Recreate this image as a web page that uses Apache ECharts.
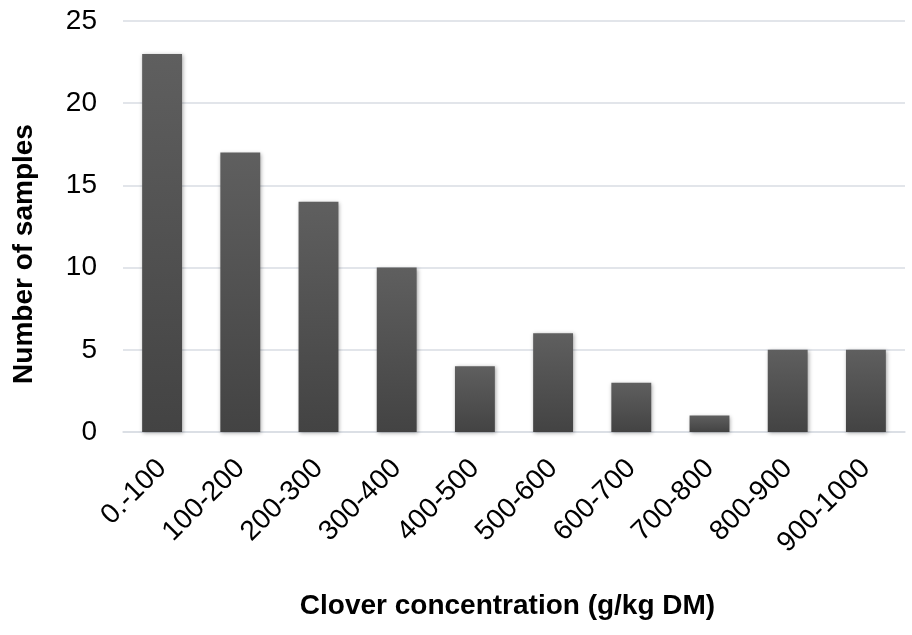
<!DOCTYPE html>
<html>
<head>
<meta charset="utf-8">
<script src="https://cdn.jsdelivr.net/npm/echarts@6/dist/echarts.min.js"></script>
<style>
html,body{margin:0;padding:0;background:#fff;}
#c{width:912px;height:635px;}
</style>
</head>
<body>
<div id="c"></div>
<script>
var categories = ['0.-100','100-200','200-300','300-400','400-500','500-600','600-700','700-800','800-900','900-1000'];
var samples = [23,17,14,10,4,6,3,1,5,5];
var yTicks = [0,5,10,15,20,25];

var chart = echarts.init(document.getElementById('c'));
var font = 'Liberation Sans, Arial, sans-serif';
chart.setOption({
  animation: false,
  grid: {left: 123, right: 7, top: 21, bottom: 203, containLabel: false},
  xAxis: {
    type: 'category',
    data: categories,
    axisTick: {show: false},
    axisLine: {lineStyle: {color: '#d9dde3', width: 1.5}},
    axisLabel: {rotate: 45, color: '#000', fontSize: 28, fontFamily: font, margin: 32, interval: 0},
    name: 'Clover concentration (g/kg DM)',
    nameLocation: 'middle',
    nameGap: 160,
    nameTextStyle: {fontSize: 28, fontWeight: 'bold', color: '#000', fontFamily: font, padding: [0, 13, 0, 0]}
  },
  yAxis: {
    type: 'value',
    min: 0, max: 25, interval: 5,
    axisLine: {show: false},
    axisTick: {show: false},
    splitLine: {lineStyle: {color: '#d9dde3', width: 1.5}},
    axisLabel: {color: '#000', fontSize: 28, fontFamily: font, margin: 26},
    name: 'Number of samples',
    nameLocation: 'middle',
    nameGap: 85,
    nameRotate: 90,
    nameTextStyle: {fontSize: 28, fontWeight: 'bold', color: '#000', fontFamily: font, padding: [0, 55, 0, 0]}
  },
  series: [{
    type: 'bar',
    data: samples,
    barWidth: '51%',
    itemStyle: {
      color: new echarts.graphic.LinearGradient(0, 0, 0, 1, [
        {offset: 0, color: '#5f5f5f'},
        {offset: 1, color: '#434343'}
      ]),
      shadowColor: 'rgba(0,0,0,0.35)',
      shadowBlur: 4,
      shadowOffsetX: 1,
      shadowOffsetY: 1
    }
  }]
});
</script>
</body>
</html>
